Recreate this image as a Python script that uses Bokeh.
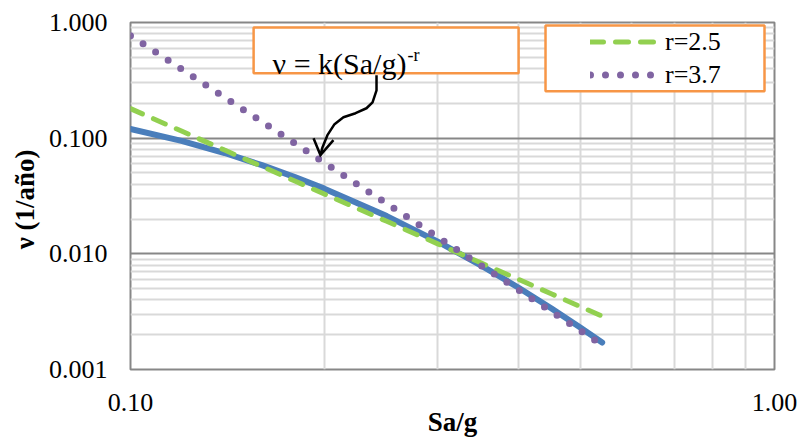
from bokeh.plotting import figure
from bokeh.models import (Range1d, FixedTicker, PrintfTickFormatter, Legend, LegendItem,
                          BoxAnnotation, Label)
from bokeh.embed import file_html
from bokeh.resources import INLINE

# ---- data ----
sa = [0.10, 0.12, 0.14, 0.16, 0.18, 0.20, 0.25, 0.30, 0.35, 0.40, 0.45, 0.50, 0.54]
nu_hazard = [0.120, 0.0947, 0.0744, 0.0584, 0.0461, 0.0366, 0.0212, 0.01274, 0.00795,
             0.00512, 0.00339, 0.0023, 0.00171]
nu_r25 = [0.180, 0.1152, 0.0789, 0.0569, 0.0426, 0.0329, 0.0191, 0.0122, 0.00836,
          0.00603, 0.00452, 0.00349, 0.00289]
nu_r37 = [0.770, 0.396, 0.2255, 0.1385, 0.0901, 0.0614, 0.02716, 0.01396, 0.00795,
          0.00489, 0.00318, 0.00216, 0.00163]

x_ticks = [0.1, 1.0]
x_minor = [0.2, 0.3, 0.4, 0.5, 0.6, 0.7, 0.8, 0.9]
y_ticks = [0.001, 0.01, 0.1, 1.0]
y_minor = [m * d for d in (0.001, 0.01, 0.1) for m in range(2, 10)]

x_title = "Sa/g"
y_title = "ν  (1/año)"
legend_labels = ["r=2.5", "r=3.7"]
formula_text = "ν = k(Sa/g)"
formula_sup = "-r"

# annotation geometry (data coordinates)
formula_box = dict(left=0.1553, right=0.4005, top=0.905, bottom=0.3634)
legend_box = dict(left=0.441, right=0.9649, top=0.942, bottom=0.2542)
arrow_x = [0.2410, 0.2410, 0.2376, 0.2325, 0.2236, 0.2141, 0.2074, 0.2022, 0.1987, 0.1972]
arrow_y = [0.3492, 0.2594, 0.2043, 0.1814, 0.1643, 0.1517, 0.1321, 0.1061, 0.0836, 0.0714]
head_x = [0.1924, 0.1972, 0.2066]
head_y = [0.1000, 0.0714, 0.0961]

FONT = "Liberation Serif"
GRID_MAJ = "#878787"
GRID_MIN = "#d9d9d9"
ORANGE = "#f79646"

p = figure(width=798, height=441, x_axis_type="log", y_axis_type="log",
           x_range=Range1d(0.1, 1.0), y_range=Range1d(0.001, 1.0),
           output_backend="svg", toolbar_location=None,
           min_border_left=130, min_border_right=24, min_border_top=22, min_border_bottom=72)

p.background_fill_color = "white"
p.border_fill_color = "white"
p.outline_line_color = GRID_MAJ
p.outline_line_width = 2

p.xaxis.ticker = FixedTicker(ticks=x_ticks, minor_ticks=x_minor)
p.yaxis.ticker = FixedTicker(ticks=y_ticks, minor_ticks=y_minor)
p.xaxis.formatter = PrintfTickFormatter(format="%.2f")
p.yaxis.formatter = PrintfTickFormatter(format="%.3f")

for ax in (p.xaxis, p.yaxis):
    ax.axis_line_color = None
    ax.major_tick_line_color = None
    ax.minor_tick_line_color = None
    ax.major_tick_out = 0
    ax.minor_tick_out = 0
    ax.major_tick_in = 0
    ax.minor_tick_in = 0
    ax.major_label_text_font = FONT
    ax.major_label_text_font_size = "26px"
    ax.major_label_text_color = "black"
    ax.axis_label_text_font = FONT
    ax.axis_label_text_font_style = "bold"
    ax.axis_label_text_font_size = "27px"
    ax.axis_label_text_color = "black"

p.xaxis.major_label_standoff = 24
p.yaxis.major_label_standoff = 23
p.xaxis.axis_label = x_title
p.xaxis.axis_label_standoff = -7
p.yaxis.axis_label = y_title
p.yaxis.axis_label_standoff = 6

for g in (p.xgrid, p.ygrid):
    g.grid_line_color = GRID_MAJ
    g.grid_line_width = 2
    g.minor_grid_line_color = GRID_MIN
    g.minor_grid_line_width = 2

# series
p.line(sa, nu_hazard, line_color="#4a7ebb", line_width=6, line_cap="round", line_join="round")
r25 = p.line(sa, nu_r25, line_color="#92d050", line_width=5, line_dash="13 12", line_cap="round")
r37 = p.line(sa, nu_r37, line_color="#8064a2", line_width=7, line_dash="0 15", line_cap="round")

# formula box + arrow
p.add_layout(BoxAnnotation(**formula_box, fill_color="white", fill_alpha=1,
                           line_color=ORANGE, line_alpha=1, line_width=2.5))
p.add_layout(Label(x=0.1662, y=0.443, text=formula_text, text_font=FONT,
                   text_font_size="30px", text_color="black", text_baseline="alphabetic"))
p.add_layout(Label(x=0.2692, y=0.5194, text=formula_sup, text_font=FONT,
                   text_font_size="18px", text_color="black", text_baseline="alphabetic"))
p.line(arrow_x, arrow_y, line_color="black", line_width=2.5, line_join="round")
p.line(head_x, head_y, line_color="black", line_width=2.5, line_join="miter")

# legend box
p.add_layout(BoxAnnotation(**legend_box, fill_color="white", fill_alpha=1,
                           line_color=ORANGE, line_alpha=1, line_width=2.5))
legend = Legend(items=[LegendItem(label=legend_labels[0], renderers=[r25]),
                       LegendItem(label=legend_labels[1], renderers=[r37])],
                location=(460, 278), padding=0, margin=0, spacing=0,
                glyph_width=67, glyph_height=33, label_height=33, label_standoff=8,
                label_text_font=FONT, label_text_font_size="26px", label_text_color="black",
                border_line_color=None, background_fill_alpha=0)
p.add_layout(legend)

open("out.html", "w").write(file_html(p, INLINE))
